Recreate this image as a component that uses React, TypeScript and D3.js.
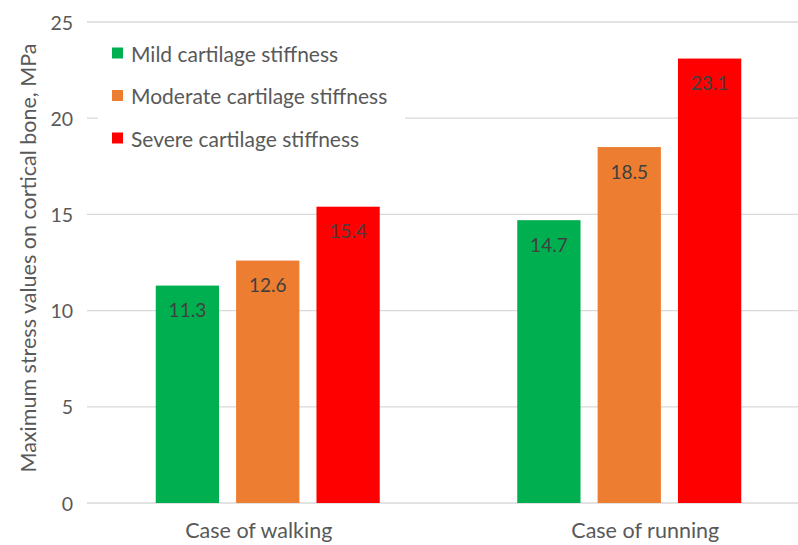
import React from "react";
import * as d3 from "d3";

const categories = ["Case of walking", "Case of running"];
const seriesNames = ["Mild cartilage stiffness", "Moderate cartilage stiffness", "Severe cartilage stiffness"];
const mildValues = [11.3, 14.7];
const moderateValues = [12.6, 18.5];
const severeValues = [15.4, 23.1];
const yTicks = [0, 5, 10, 15, 20, 25];
const colors = ["#00B050", "#ED7D31", "#FF0000"];

const W = 798;
const H = 545;
const FONT = "Lato, 'Open Sans', sans-serif";

export default function App() {
  const series = [mildValues, moderateValues, severeValues];
  const y = d3.scaleLinear().domain([0, 25]).range([503, 22]);
  const x0 = d3.scaleBand().domain(categories).range([87, 810]).paddingInner(0).paddingOuter(0);
  const groupW = 224;
  const x1 = d3.scaleBand().domain(seriesNames).range([0, groupW]).paddingInner(0.2125).paddingOuter(0);
  const gridX1 = 87;
  const gridX2 = 798;
  const labelDx = [-9, 16];

  return (
    <svg width={W} height={H} style={{ position: "absolute", left: 0, top: 0, background: "#fff" }} fontFamily={FONT}>
      <rect x={0} y={0} width={W} height={H} fill="#fff" />
      {yTicks.map((t) => (
        <g key={t}>
          <line x1={gridX1} x2={gridX2} y1={y(t)} y2={y(t)} stroke="#D9D9D9" strokeWidth={1.3} />
          <text x={73} y={y(t)} textAnchor="end" dominantBaseline="central" fontSize={19.5} fill="#595959">
            {t}
          </text>
        </g>
      ))}
      {categories.map((c, ci) => {
        const gx = (x0(c) as number) + (x0.bandwidth() - groupW) / 2;
        return (
          <g key={c}>
            {series.map((vals, si) => {
              const bx = gx + (x1(seriesNames[si]) as number);
              const v = vals[ci];
              return (
                <g key={si}>
                  <rect x={bx} y={y(v)} width={x1.bandwidth()} height={y(0) - y(v)} fill={colors[si]} />
                  <text x={bx + x1.bandwidth() / 2} y={y(v) + 24} textAnchor="middle" dominantBaseline="central" fontSize={19} fill="#404040">
                    {v.toFixed(1)}
                  </text>
                </g>
              );
            })}
            <text x={(x0(c) as number) + x0.bandwidth() / 2 + labelDx[ci]} y={530} textAnchor="middle" dominantBaseline="central" fontSize={21.5} fill="#595959">
              {c}
            </text>
          </g>
        );
      })}
      <g>
        <rect x={98} y={32} width={307} height={122} fill="#fff" />
        {seriesNames.map((s, i) => (
          <g key={s} transform={`translate(112, ${53 + i * 42.5})`}>
            <rect x={0} y={-5.5} width={11} height={11} fill={colors[i]} />
            <text x={19} y={0} dominantBaseline="central" fontSize={21} fill="#595959">
              {s}
            </text>
          </g>
        ))}
      </g>
      <text transform={`translate(28, ${258}) rotate(-90)`} textAnchor="middle" dominantBaseline="central" fontSize={21.5} fill="#595959">
        Maximum stress values on cortical bone, MPa
      </text>
    </svg>
  );
}
